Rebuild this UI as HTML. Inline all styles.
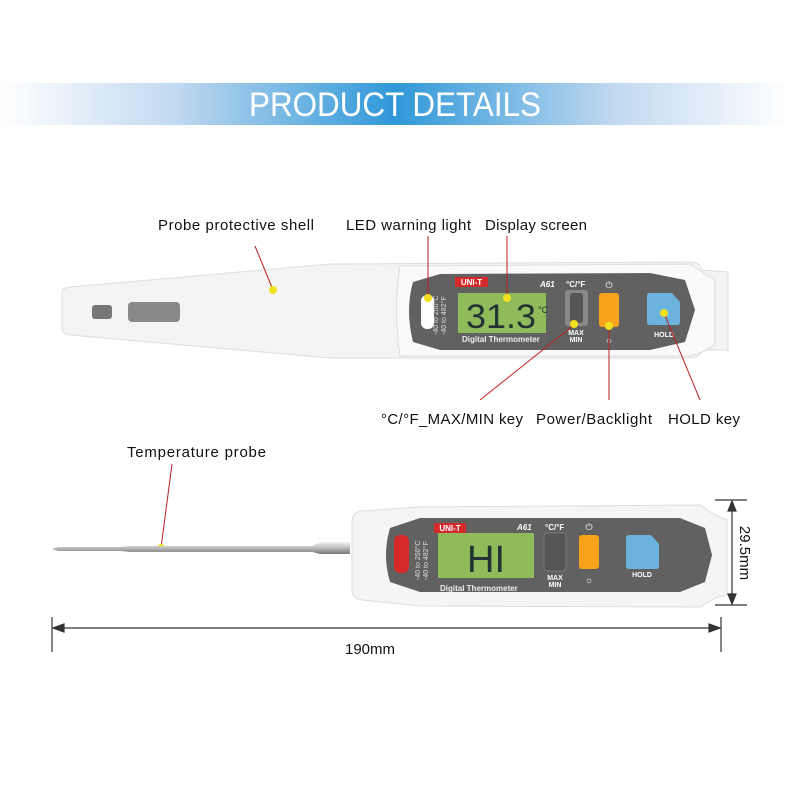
<!DOCTYPE html>
<html><head><meta charset="utf-8"><style>
html,body{margin:0;padding:0;background:#fff;}
svg{display:block;font-family:"Liberation Sans",sans-serif;}
</style></head><body>
<svg width="790" height="790" viewBox="0 0 790 790" xmlns="http://www.w3.org/2000/svg">
<defs>
<linearGradient id="bn" x1="0" x2="1" y1="0" y2="0">
<stop offset="0" stop-color="#fff"/>
<stop offset="0.22" stop-color="#c2d9f0"/>
<stop offset="0.5" stop-color="#2f98d8"/>
<stop offset="0.78" stop-color="#c2d9f0"/>
<stop offset="1" stop-color="#fff"/>
</linearGradient>
<linearGradient id="probe" x1="0" x2="0" y1="0" y2="1">
<stop offset="0" stop-color="#f4f4f4"/><stop offset="0.5" stop-color="#bbb"/><stop offset="1" stop-color="#777"/>
</linearGradient>
</defs>
<rect x="0" y="83" width="790" height="42" fill="url(#bn)"/>
<text x="395" y="116" text-anchor="middle" font-size="34" fill="#fff" textLength="292" lengthAdjust="spacingAndGlyphs">PRODUCT DETAILS</text>

<!-- top device -->
<path d="M62,292 Q62,288 70,287 L330,264 L690,262 Q700,262 702,270 L728,272 L728,350 L702,350 Q700,358 690,358 L330,358 L70,335 Q62,334 62,328 Z" fill="#f4f4f4" stroke="#ddd"/>
<path d="M400,266 L690,264 L702,272 L715,280 L715,345 L702,352 L690,356 L400,356 Q393,310 400,266Z" fill="#fafafa" stroke="#ddd"/>
<rect x="92" y="305" width="20" height="14" rx="3" fill="#777"/>
<rect x="128" y="302" width="52" height="20" rx="4" fill="#888"/>
<path d="M413,282 L440,274 L650,273 L685,280 L695,310 L685,342 L650,350 L440,350 L413,342 Q405,310 413,282Z" fill="#616161"/>
<rect x="421" y="295" width="13" height="34" rx="6" fill="#fff"/>
<rect x="458" y="293" width="88" height="40" fill="#8fbb5b"/>
<text x="536" y="328" text-anchor="end" font-size="34" fill="#233" textLength="70" lengthAdjust="spacingAndGlyphs">31.3</text>
<text x="538" y="313" font-size="9" fill="#233">°C</text>
<rect x="455" y="277" width="33" height="10" fill="#d32b2b"/>
<text x="471.5" y="285" text-anchor="middle" font-size="8" font-weight="bold" fill="#fff">UNI-T</text>
<text x="540" y="287" font-size="8" font-style="italic" font-weight="bold" fill="#fff">A61</text>
<text x="462" y="342" font-size="8" font-weight="bold" fill="#eee">Digital Thermometer</text>
<text x="438" y="335" font-size="7" fill="#ddd" transform="rotate(-90 438 335)">-40 to 250°C</text>
<text x="446" y="335" font-size="7" fill="#ddd" transform="rotate(-90 446 335)">-40 to 482°F</text>
<text x="566" y="287" font-size="8" font-weight="bold" fill="#fff">°C/°F</text>
<rect x="565" y="290" width="23" height="36" rx="3" fill="#888"/>
<rect x="570" y="293" width="13" height="30" rx="3" fill="#555"/>
<text x="576" y="335" text-anchor="middle" font-size="7" font-weight="bold" fill="#fff">MAX</text>
<text x="576" y="342" text-anchor="middle" font-size="7" font-weight="bold" fill="#fff">MIN</text>
<text x="609" y="288" text-anchor="middle" font-size="9" fill="#fff">⏻</text>
<rect x="599" y="293" width="20" height="34" rx="3" fill="#f6a21a"/>
<text x="609" y="343" text-anchor="middle" font-size="9" fill="#fff">☼</text>
<path d="M647,296 Q647,293 650,293 L672,293 L680,302 L680,322 Q680,325 677,325 L650,325 Q647,325 647,322Z" fill="#6bb2df"/>
<text x="664" y="337" text-anchor="middle" font-size="7" font-weight="bold" fill="#fff">HOLD</text>

<!-- top labels -->
<g font-size="15" fill="#111" lengthAdjust="spacingAndGlyphs">
<text x="158" y="230" textLength="156">Probe protective shell</text>
<text x="346" y="230" textLength="125">LED warning light</text>
<text x="485" y="230" textLength="102">Display screen</text>
<text x="381" y="424" textLength="142">°C/°F_MAX/MIN key</text>
<text x="536" y="424" textLength="116">Power/Backlight</text>
<text x="668" y="424" textLength="72">HOLD key</text>
<text x="127" y="457" textLength="139">Temperature probe</text>
</g>
<g stroke="#b22" stroke-width="1" fill="none">
<line x1="255" y1="246" x2="273" y2="290"/>
<line x1="428" y1="236" x2="428" y2="298"/>
<line x1="507" y1="236" x2="507" y2="298"/>
<line x1="480" y1="400" x2="574" y2="325"/>
<line x1="609" y1="326" x2="609" y2="400"/>
<line x1="664" y1="313" x2="700" y2="400"/>
<line x1="172" y1="464" x2="161" y2="548"/>
</g>
<g fill="#f2e020">
<circle cx="273" cy="290" r="4"/><circle cx="428" cy="298" r="4"/><circle cx="507" cy="298" r="4"/>
<circle cx="574" cy="324" r="4"/><circle cx="609" cy="326" r="4"/><circle cx="664" cy="313" r="4"/>
<circle cx="161" cy="548" r="4"/>
</g>

<!-- bottom device -->
<path d="M52,549 L58,547 L120,547 L130,546 L312,546 L320,542 L350,542 L350,554 L320,554 L312,552 L130,552 L120,551 L58,551 Z" fill="url(#probe)"/>
<path d="M352,522 Q352,512 362,511 L420,507 L700,505 L715,515 L727,520 L727,595 L715,598 L700,607 L420,606 L362,600 Q352,598 352,590 Z" fill="#f5f5f5" stroke="#ddd"/>
<path d="M390,528 L420,518 L680,518 L705,528 L712,555 L705,582 L680,592 L420,592 L390,582 Q382,555 390,528Z" fill="#616161"/>
<rect x="394" y="535" width="15" height="38" rx="6" fill="#d62a2a"/>
<rect x="434" y="523" width="32" height="10" fill="#d32b2b"/>
<text x="450" y="531" text-anchor="middle" font-size="8" font-weight="bold" fill="#fff">UNI-T</text>
<text x="517" y="530" font-size="8" font-style="italic" font-weight="bold" fill="#fff">A61</text>
<rect x="438" y="533" width="96" height="45" fill="#8fbb5b"/>
<text x="486" y="572" text-anchor="middle" font-size="38" fill="#233">HI</text>
<text x="440" y="591" font-size="8" font-weight="bold" fill="#eee">Digital Thermometer</text>
<text x="420" y="580" font-size="7" fill="#ddd" transform="rotate(-90 420 580)">-40 to 250°C</text>
<text x="428" y="580" font-size="7" fill="#ddd" transform="rotate(-90 428 580)">-40 to 482°F</text>
<text x="545" y="530" font-size="8" font-weight="bold" fill="#fff">°C/°F</text>
<rect x="544" y="533" width="22" height="38" rx="3" fill="#555" stroke="#777"/>
<text x="555" y="580" text-anchor="middle" font-size="7" font-weight="bold" fill="#fff">MAX</text>
<text x="555" y="587" text-anchor="middle" font-size="7" font-weight="bold" fill="#fff">MIN</text>
<text x="589" y="530" text-anchor="middle" font-size="9" fill="#fff">⏻</text>
<rect x="579" y="535" width="20" height="34" rx="3" fill="#f6a21a"/>
<text x="589" y="583" text-anchor="middle" font-size="9" fill="#fff">☼</text>
<path d="M626,538 Q626,535 629,535 L651,535 L659,544 L659,566 Q659,569 656,569 L629,569 Q626,569 626,566Z" fill="#6bb2df"/>
<text x="642" y="577" text-anchor="middle" font-size="7" font-weight="bold" fill="#fff">HOLD</text>

<!-- dimensions -->
<g stroke="#333" stroke-width="1.2" fill="#333">
<line x1="715" y1="500" x2="747" y2="500"/>
<line x1="715" y1="605" x2="747" y2="605"/>
<line x1="732" y1="506" x2="732" y2="600"/>
<path d="M732,501 L728,511 L736,511Z"/><path d="M732,604 L728,594 L736,594Z"/>
<line x1="52" y1="617" x2="52" y2="652"/>
<line x1="721" y1="617" x2="721" y2="652"/>
<line x1="58" y1="628" x2="715" y2="628"/>
<path d="M53,628 L64,624 L64,632Z"/><path d="M720,628 L709,624 L709,632Z"/>
</g>
<text x="370" y="654" text-anchor="middle" font-size="15" fill="#111">190mm</text>
<text x="740" y="553" text-anchor="middle" font-size="15" fill="#111" transform="rotate(90 740 553)">29.5mm</text>
</svg>
</body></html>
